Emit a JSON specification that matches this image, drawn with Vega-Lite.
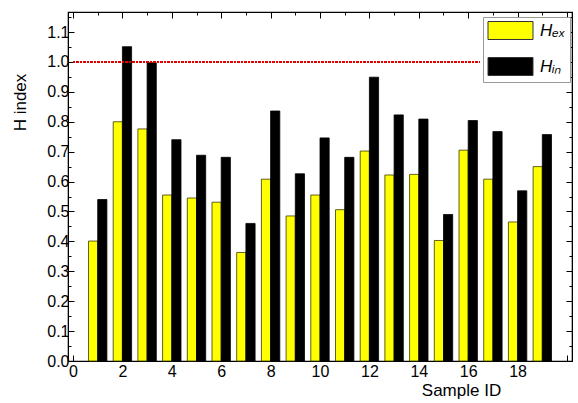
{
  "$schema": "https://vega.github.io/schema/vega-lite/v6.json",
  "width": 504,
  "height": 349,
  "autosize": {"type": "none"},
  "padding": {"left": 68, "top": 12, "right": 6, "bottom": 42},
  "config": {
    "font": "Liberation Sans",
    "view": {"stroke": "black", "strokeWidth": 1.2},
    "axis": {"labelFontSize": 16, "labelColor": "black", "titleFontSize": 17, "titleFontWeight": "normal", "titleColor": "black", "domainColor": "black", "tickColor": "black", "grid": false, "labelFont": "Liberation Sans", "titleFont": "Liberation Sans"}
  },
  "data": {"values": [
    {"id": 1, "series": "Hₑₓ", "value": 0.401}, {"id": 1, "series": "Hᵢₙ", "value": 0.540},
    {"id": 2, "series": "Hₑₓ", "value": 0.800}, {"id": 2, "series": "Hᵢₙ", "value": 1.051},
    {"id": 3, "series": "Hₑₓ", "value": 0.776}, {"id": 3, "series": "Hᵢₙ", "value": 0.997},
    {"id": 4, "series": "Hₑₓ", "value": 0.555}, {"id": 4, "series": "Hᵢₙ", "value": 0.740},
    {"id": 5, "series": "Hₑₓ", "value": 0.545}, {"id": 5, "series": "Hᵢₙ", "value": 0.688},
    {"id": 6, "series": "Hₑₓ", "value": 0.531}, {"id": 6, "series": "Hᵢₙ", "value": 0.681},
    {"id": 7, "series": "Hₑₓ", "value": 0.363}, {"id": 7, "series": "Hᵢₙ", "value": 0.460},
    {"id": 8, "series": "Hₑₓ", "value": 0.608}, {"id": 8, "series": "Hᵢₙ", "value": 0.836},
    {"id": 9, "series": "Hₑₓ", "value": 0.485}, {"id": 9, "series": "Hᵢₙ", "value": 0.626},
    {"id": 10, "series": "Hₑₓ", "value": 0.555}, {"id": 10, "series": "Hᵢₙ", "value": 0.746},
    {"id": 11, "series": "Hₑₓ", "value": 0.506}, {"id": 11, "series": "Hᵢₙ", "value": 0.681},
    {"id": 12, "series": "Hₑₓ", "value": 0.702}, {"id": 12, "series": "Hᵢₙ", "value": 0.949},
    {"id": 13, "series": "Hₑₓ", "value": 0.622}, {"id": 13, "series": "Hᵢₙ", "value": 0.823},
    {"id": 14, "series": "Hₑₓ", "value": 0.624}, {"id": 14, "series": "Hᵢₙ", "value": 0.809},
    {"id": 15, "series": "Hₑₓ", "value": 0.403}, {"id": 15, "series": "Hᵢₙ", "value": 0.490},
    {"id": 16, "series": "Hₑₓ", "value": 0.705}, {"id": 16, "series": "Hᵢₙ", "value": 0.804},
    {"id": 17, "series": "Hₑₓ", "value": 0.608}, {"id": 17, "series": "Hᵢₙ", "value": 0.767},
    {"id": 18, "series": "Hₑₓ", "value": 0.465}, {"id": 18, "series": "Hᵢₙ", "value": 0.569},
    {"id": 19, "series": "Hₑₓ", "value": 0.650}, {"id": 19, "series": "Hᵢₙ", "value": 0.757}
  ]},
  "layer": [
    {
      "transform": [{"filter": "datum.series == 'Hₑₓ'"}],
      "mark": {"type": "bar", "width": 9.2, "xOffset": -4.6, "stroke": "#3a3a00", "strokeWidth": 0.8},
      "encoding": {
        "x": {"field": "id", "type": "quantitative", "scale": {"domain": [0, 20], "nice": false},
          "axis": {"orient": "bottom", "title": "Sample ID", "values": [0,1,2,3,4,5,6,7,8,9,10,11,12,13,14,15,16,17,18,19,20],
            "labelExpr": "(datum.value % 2 == 0 && datum.value < 20) ? datum.label : ''",
            "tickSize": {"condition": {"test": "datum.value % 2 == 0", "value": -6}, "value": -3},
            "labelPadding": 8, "labelFlush": false, "labelAlign": "center", "labelOverlap": false,
            "titleX": 393, "titleY": 34, "titleAlign": "center", "titleBaseline": "alphabetic"}},
        "y": {"field": "value", "type": "quantitative", "scale": {"domain": [0, 1.167], "nice": false},
          "axis": {"orient": "left", "title": "H index", "values": [0,0.05,0.1,0.15,0.2,0.25,0.3,0.35,0.4,0.45,0.5,0.55,0.6,0.65,0.7,0.75,0.8,0.85,0.9,0.95,1.0,1.05,1.1,1.15],
            "labelExpr": "(round(datum.value*20) % 2 == 0) ? format(datum.value, '.1f') : ''",
            "tickSize": {"condition": {"test": "round(datum.value*20) % 2 == 0", "value": -6}, "value": -3},
            "labelPadding": 5, "labelFlush": false, "labelOverlap": false,
            "titleX": -48, "titleY": 90, "titleAngle": -90, "titleAlign": "center", "titleBaseline": "middle"}},
        "color": {"field": "series", "type": "nominal", "scale": {"domain": ["Hₑₓ", "Hᵢₙ"], "range": ["#ffff00", "#000000"]},
          "legend": {"title": null, "orient": "none", "legendX": 415, "legendY": 5, "padding": 4, "fillColor": "white", "strokeColor": "#999999",
            "symbolType": "M-2.5,-1H2.5V1H-2.5Z", "symbolSize": 324, "symbolStrokeColor": "#333333", "symbolStrokeWidth": 1,
            "symbolOffset": 14, "labelOffset": 20, "rowPadding": 13, "labelFontSize": 17, "labelFontStyle": "italic", "labelColor": "black"}}
      }
    },
    {
      "transform": [{"filter": "datum.series == 'Hᵢₙ'"}],
      "mark": {"type": "bar", "width": 9.2, "xOffset": 4.6, "stroke": "black", "strokeWidth": 0.8},
      "encoding": {
        "x": {"field": "id", "type": "quantitative",
          "axis": {"orient": "top", "title": null, "values": [0,1,2,3,4,5,6,7,8,9,10,11,12,13,14,15,16,17,18,19,20], "labels": false,
            "tickSize": {"condition": {"test": "datum.value % 2 == 0", "value": -6}, "value": -3}}},
        "y": {"field": "value", "type": "quantitative",
          "axis": {"orient": "right", "title": null, "values": [0,0.05,0.1,0.15,0.2,0.25,0.3,0.35,0.4,0.45,0.5,0.55,0.6,0.65,0.7,0.75,0.8,0.85,0.9,0.95,1.0,1.05,1.1,1.15], "labels": false,
            "tickSize": {"condition": {"test": "round(datum.value*20) % 2 == 0", "value": -6}, "value": -3}}},
        "color": {"field": "series", "type": "nominal",
          "legend": {"title": null, "orient": "none", "legendX": 415, "legendY": 5, "padding": 4, "fillColor": "white", "strokeColor": "#999999",
            "symbolType": "M-2.5,-1H2.5V1H-2.5Z", "symbolSize": 324, "symbolStrokeColor": "#333333", "symbolStrokeWidth": 1,
            "symbolOffset": 14, "labelOffset": 20, "rowPadding": 13, "labelFontSize": 17, "labelFontStyle": "italic", "labelColor": "black"}}
      }
    },
    {
      "mark": {"type": "rule", "color": "#e00000", "strokeDash": [2, 1.5], "strokeWidth": 1.2},
      "encoding": {
        "y": {"datum": 1, "type": "quantitative", "axis": null},
        "x": {"datum": 0, "type": "quantitative", "axis": null},
        "x2": {"datum": 16.45}
      }
    }
  ],
  "resolve": {"axis": {"x": "independent", "y": "independent"}}
}
